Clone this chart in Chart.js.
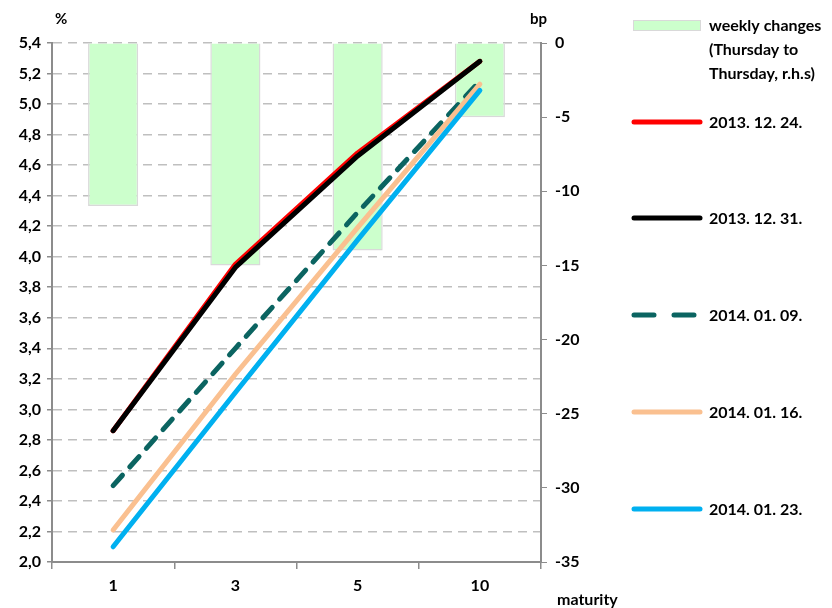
<!DOCTYPE html>
<html>
<head>
<meta charset="utf-8">
<script src="https://cdn.jsdelivr.net/npm/chart.js@4.4.1/dist/chart.umd.min.js"></script>
<style>
  html,body{margin:0;padding:0;background:#fff;}
  #wrap{width:832px;height:608px;position:relative;}
</style>
</head>
<body>
<div id="wrap"><canvas id="c" width="832" height="608"></canvas></div>
<script>
const maturities = ['1', '3', '5', '10'];
const weeklyChanges = [-11, -15, -14, -5];
const d20131224 = [2.86, 3.95, 4.68, 5.28];
const d20131231 = [2.86, 3.93, 4.66, 5.28];
const d20140109 = [2.50, 3.40, 4.29, 5.15];
const d20140116 = [2.21, 3.23, 4.19, 5.13];
const d20140123 = [2.10, 3.11, 4.11, 5.09];
const leftTicks = {min: 2.0, max: 5.4, step: 0.2};
const rightTicks = {min: -35, max: 0, step: 5};

const FONT = "Lato, 'Open Sans', sans-serif";
const gray = '#8c8c8c';

function lineSet(label, data, color, order, extras={}){
  return {
    type: 'line', label, data, yAxisID: 'y',
    borderColor: color, backgroundColor: color,
    borderWidth: 5, pointRadius: 0, tension: 0,
    borderCapStyle: 'round', borderJoinStyle: 'round',
    order, ...extras
  };
}

const legendItems = [
  {label: '2013. 12. 24.', color: '#ff0000', y: 122},
  {label: '2013. 12. 31.', color: '#000000', y: 218},
  {label: '2014. 01. 09.', color: '#0b6461', y: 315, dash: [20, 20]},
  {label: '2014. 01. 16.', color: '#fac090', y: 412},
  {label: '2014. 01. 23.', color: '#00b0f0', y: 509}
];

const extraText = {
  id: 'extraText',
  afterDraw(chart){
    const ctx = chart.ctx;
    ctx.save();
    ctx.font = "bold 15px " + FONT;
    ctx.fillStyle = '#000';
    ctx.textBaseline = 'middle';
    ctx.textAlign = 'left';
    ctx.fillText('%', 55, 19);
    ctx.fillText('bp', 530, 19);
    ctx.font = "bold 16px " + FONT;
    ctx.fillText('maturity', 557, 600);
    // legend
    ctx.fillStyle = '#ccffcc';
    ctx.fillRect(633, 20, 67, 10);
    ctx.strokeStyle = '#d9d9d9';
    ctx.lineWidth = 1;
    ctx.strokeRect(633.5, 20.5, 67, 10);
    ctx.fillStyle = '#000';
    ctx.fillText('weekly changes', 709, 26);
    ctx.fillText('(Thursday to', 709, 50);
    ctx.fillText('Thursday, r.h.s)', 709, 74);
    legendItems.forEach(it => {
      ctx.beginPath();
      ctx.strokeStyle = it.color;
      ctx.lineWidth = 5;
      ctx.lineCap = 'round';
      ctx.setLineDash(it.dash || []);
      ctx.moveTo(634, it.y);
      ctx.lineTo(700, it.y);
      ctx.stroke();
      ctx.setLineDash([]);
      ctx.fillStyle = '#000';
      ctx.fillText(it.label, 709, it.y + 1);
    });
    ctx.restore();
  }
};

const tickFont = {family: FONT, size: 16, weight: 'bold'};

new Chart(document.getElementById('c'), {
  data: {
    labels: maturities,
    datasets: [
      {
        type: 'bar', label: 'weekly changes (Thursday to Thursday, r.h.s)',
        data: weeklyChanges, yAxisID: 'y1',
        backgroundColor: '#ccffcc', borderColor: '#d9d9d9', borderWidth: 1.5,
        barPercentage: 0.41, categoryPercentage: 1, order: 10
      },
      lineSet('2013. 12. 24.', d20131224, '#ff0000', 5),
      lineSet('2013. 12. 31.', d20131231, '#000000', 4),
      lineSet('2014. 01. 09.', d20140109, '#0b6461', 3, {borderDash: [14, 11]}),
      lineSet('2014. 01. 16.', d20140116, '#fac090', 2),
      lineSet('2014. 01. 23.', d20140123, '#00b0f0', 1)
    ]
  },
  options: {
    responsive: false,
    animation: false,
    layout: {padding: {left: 0, right: 241, top: 43, bottom: 0}},
    plugins: {legend: {display: false}, tooltip: {enabled: false}},
    scales: {
      x: {
        offset: true,
        grid: {drawOnChartArea: false, offset: true, color: gray, tickLength: 7, lineWidth: 1.5},
        border: {color: gray, width: 2},
        ticks: {color: '#000', font: tickFont, padding: 7},
        afterFit(s){ s.height = 46; }
      },
      y: {
        position: 'left',
        min: leftTicks.min, max: leftTicks.max,
        ticks: {
          stepSize: leftTicks.step, color: '#000',
          font: tickFont, padding: 6,
          callback: v => Number(v).toFixed(1).replace('.', ',')
        },
        grid: {color: '#bfbfbf', lineWidth: 1.5, tickLength: 5, tickColor: gray},
        border: {color: gray, width: 2, dash: [9, 6]},
        afterFit(s){ s.width = 52; }
      },
      y1: {
        position: 'right',
        min: rightTicks.min, max: rightTicks.max,
        ticks: {stepSize: rightTicks.step, color: '#000', font: tickFont, padding: 8},
        grid: {drawOnChartArea: false, color: gray, tickLength: 6},
        border: {color: gray, width: 2},
        afterFit(s){ s.width = 50; }
      }
    }
  },
  plugins: [extraText]
});
</script>
</body>
</html>
